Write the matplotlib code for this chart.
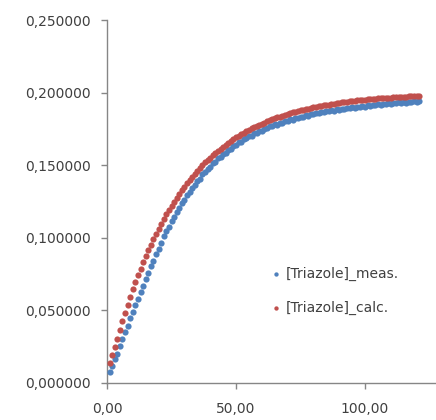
import matplotlib
matplotlib.use("Agg")
import matplotlib.pyplot as plt
from matplotlib.ticker import FuncFormatter

# sampling times (min)
time = [1, 2, 3, 4, 5, 6, 7, 8, 9, 10, 11, 12, 13, 14, 15, 16, 17, 18, 19, 20,
        21, 22, 23, 24, 25, 26, 27, 28, 29, 30, 31, 32, 33, 34, 35, 36, 37, 38, 39, 40,
        41, 42, 43, 44, 45, 46, 47, 48, 49, 50, 51, 52, 53, 54, 55, 56, 57, 58, 59, 60,
        61, 62, 63, 64, 65, 66, 67, 68, 69, 70, 71, 72, 73, 74, 75, 76, 77, 78, 79, 80,
        81, 82, 83, 84, 85, 86, 87, 88, 89, 90, 91, 92, 93, 94, 95, 96, 97, 98, 99, 100,
        101, 102, 103, 104, 105, 106, 107, 108, 109, 110, 111, 112, 113, 114, 115, 116,
        117, 118, 119, 120, 121]

triazole_meas = [
    0.0076, 0.0115, 0.0165, 0.0203, 0.0255, 0.0300, 0.0353, 0.0395, 0.0447, 0.0488,
    0.0538, 0.0579, 0.0629, 0.0668, 0.0719, 0.0758, 0.0807, 0.0843, 0.0891, 0.0925,
    0.0962, 0.1010, 0.1046, 0.1073, 0.1115, 0.1141, 0.1181, 0.1204, 0.1240, 0.1262,
    0.1295, 0.1313, 0.1345, 0.1362, 0.1393, 0.1408, 0.1436, 0.1450, 0.1476, 0.1487,
    0.1512, 0.1523, 0.1548, 0.1556, 0.1578, 0.1585, 0.1606, 0.1612, 0.1633, 0.1638,
    0.1658, 0.1662, 0.1680, 0.1685, 0.1701, 0.1704, 0.1720, 0.1722, 0.1737, 0.1738,
    0.1752, 0.1754, 0.1767, 0.1767, 0.1781, 0.1780, 0.1793, 0.1792, 0.1805, 0.1804,
    0.1816, 0.1814, 0.1826, 0.1824, 0.1835, 0.1833, 0.1844, 0.1841, 0.1852, 0.1850,
    0.1860, 0.1857, 0.1867, 0.1864, 0.1873, 0.1870, 0.1879, 0.1876, 0.1885, 0.1882,
    0.1890, 0.1887, 0.1895, 0.1891, 0.1900, 0.1896, 0.1904, 0.1900, 0.1908, 0.1903,
    0.1914, 0.1910, 0.1918, 0.1913, 0.1921, 0.1916, 0.1924, 0.1919, 0.1926, 0.1921,
    0.1931, 0.1926, 0.1933, 0.1928, 0.1935, 0.1930, 0.1937, 0.1932, 0.1939, 0.1934,
    0.1940]

triazole_calc = [
    0.0140, 0.0190, 0.0250, 0.0305, 0.0365, 0.0425, 0.0483, 0.0538, 0.0592, 0.0644,
    0.0693, 0.0741, 0.0786, 0.0830, 0.0873, 0.0914, 0.0953, 0.0991, 0.1028, 0.1063,
    0.1097, 0.1130, 0.1162, 0.1192, 0.1221, 0.1250, 0.1277, 0.1303, 0.1328, 0.1353,
    0.1376, 0.1399, 0.1421, 0.1442, 0.1462, 0.1482, 0.1500, 0.1519, 0.1536, 0.1553,
    0.1569, 0.1585, 0.1600, 0.1614, 0.1628, 0.1642, 0.1655, 0.1667, 0.1679, 0.1691,
    0.1702, 0.1713, 0.1723, 0.1734, 0.1743, 0.1753, 0.1762, 0.1770, 0.1779, 0.1787,
    0.1794, 0.1802, 0.1809, 0.1816, 0.1823, 0.1829, 0.1835, 0.1841, 0.1847, 0.1853,
    0.1858, 0.1863, 0.1868, 0.1873, 0.1877, 0.1882, 0.1886, 0.1890, 0.1894, 0.1898,
    0.1902, 0.1905, 0.1909, 0.1912, 0.1915, 0.1918, 0.1921, 0.1924, 0.1927, 0.1930,
    0.1932, 0.1935, 0.1937, 0.1939, 0.1942, 0.1944, 0.1946, 0.1948, 0.1950, 0.1951,
    0.1953, 0.1955, 0.1957, 0.1958, 0.1960, 0.1961, 0.1963, 0.1964, 0.1965, 0.1966,
    0.1968, 0.1969, 0.1970, 0.1971, 0.1972, 0.1973, 0.1974, 0.1975, 0.1976, 0.1977,
    0.1978]

x_ticks = [0, 50, 100]
y_ticks = [0.0, 0.05, 0.10, 0.15, 0.20, 0.25]

blue = "#4F81BD"
red = "#C0504D"
grey = "#868686"
text_col = "#404040"

plt.rcParams["font.family"] = "DejaVu Sans"

fig = plt.figure(figsize=(4.36, 4.20), dpi=100)
ax = fig.add_axes([107 / 436, 37 / 420, (436 - 107) / 436, (383 - 20) / 420])

ax.scatter(time, triazole_meas, s=20, color=blue, label="[Triazole]_meas.", linewidths=0, zorder=3)
ax.scatter(time, triazole_calc, s=20, color=red, label="[Triazole]_calc.", linewidths=0, zorder=4)

ax.set_xlim(0, 127.5)
ax.set_ylim(0, 0.25)
ax.set_xticks(x_ticks)
ax.set_yticks(y_ticks)
ax.xaxis.set_major_formatter(FuncFormatter(lambda v, p: f"{v:.2f}".replace(".", ",")))
ax.yaxis.set_major_formatter(FuncFormatter(lambda v, p: f"{v:.6f}".replace(".", ",")))

for side in ["top", "right"]:
    ax.spines[side].set_visible(False)
for side in ["left", "bottom"]:
    ax.spines[side].set_color(grey)
    ax.spines[side].set_linewidth(1.0)

ax.tick_params(axis="both", direction="out", length=4.5, width=1.0, color=grey,
               labelsize=10, labelcolor=text_col)
ax.tick_params(axis="y", pad=7)
ax.tick_params(axis="x", pad=9)

leg = ax.legend(loc="center left", bbox_to_anchor=(261 / 436, 1 - 291 / 420),
                bbox_transform=fig.transFigure, frameon=False, fontsize=10,
                handletextpad=0.1, labelspacing=1.45, markerscale=0.7,
                handlelength=1.2, borderpad=0)
for t in leg.get_texts():
    t.set_color(text_col)

fig.savefig("out.png", dpi=100)
